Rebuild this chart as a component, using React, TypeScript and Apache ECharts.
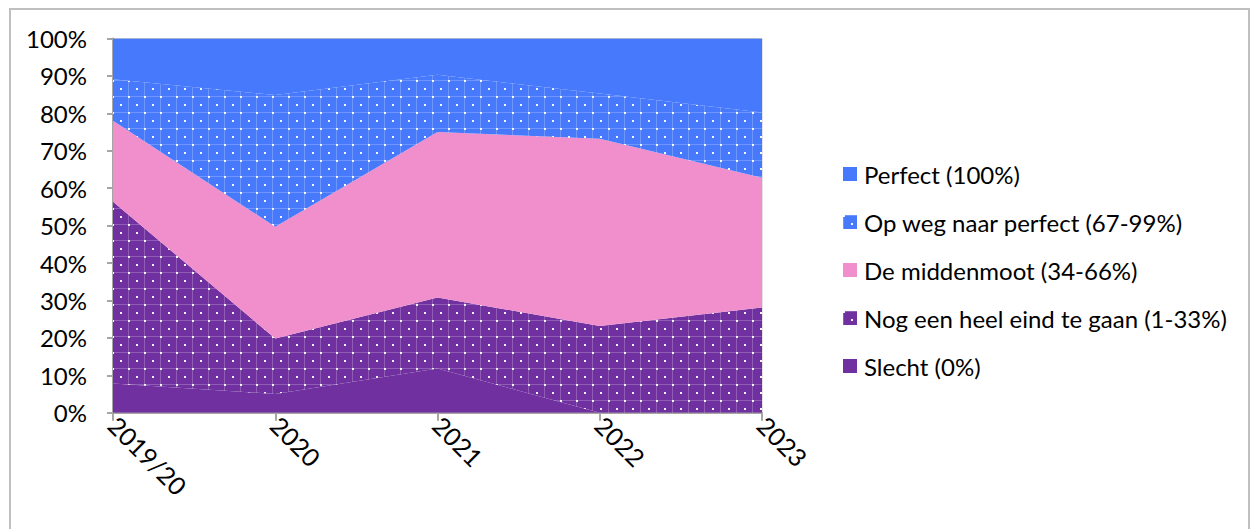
import React, { useEffect, useRef } from "react";
import * as echarts from "echarts";

const categories = ["2019/20", "2020", "2021", "2022", "2023"];
const slecht = [7.8, 5.0, 11.8, 0, 0];
const nogEenHeelEind = [48.6, 14.8, 19.0, 23.2, 28.1];
const middenmoot = [21.6, 29.9, 44.2, 50.0, 34.7];
const opWeg = [11.1, 35.2, 15.3, 12.1, 17.4];
const perfect = [10.9, 15.1, 9.7, 14.7, 19.8];
const yTicks = [0, 10, 20, 30, 40, 50, 60, 70, 80, 90, 100];

const BLUE = "#4679FC";
const PINK = "#F08FCC";
const PURPLE = "#7030A0";
const FONT = "Lato";

function makePattern(base: string) {
  const c = document.createElement("canvas");
  c.width = 16;
  c.height = 16;
  const ctx = c.getContext("2d")!;
  ctx.fillStyle = base;
  ctx.fillRect(0, 0, 16, 16);
  ctx.fillStyle = "rgba(255,255,255,0.22)";
  ctx.fillRect(0, 0, 16, 1);
  ctx.fillRect(0, 0, 1, 16);
  ctx.fillStyle = "rgba(255,255,255,0.95)";
  ctx.fillRect(0, 0, 2, 2);
  ctx.fillRect(8, 8, 2, 2);
  return { image: c, repeat: "repeat", imageWidth: 16, imageHeight: 16 } as any;
}

export default function App() {
  const ref = useRef<HTMLDivElement>(null);
  useEffect(() => {
    document.body.style.margin = "0";
    const chart = echarts.init(ref.current!, null, { renderer: "svg" });
    const bluePat = makePattern(BLUE);
    const purplePat = makePattern(PURPLE);
    const mk = (name: string, data: number[], color: any) => ({
      name,
      type: "line",
      stack: "total",
      data,
      symbol: "none",
      lineStyle: { width: 0, opacity: 0 },
      itemStyle: { color },
      areaStyle: { color, opacity: 1 },
    });
    chart.setOption({
      animation: false,
      textStyle: { fontFamily: FONT },
      graphic: [
        {
          type: "rect",
          shape: { x: 10, y: 9, width: 1239, height: 540 },
          style: { fill: "none", stroke: "#BFBFBF", lineWidth: 2 },
          silent: true,
        },
      ],
      grid: {
        left: 113,
        right: 498,
        top: 38.5,
        bottom: 116.3,
        show: true,
        borderColor: "#C8C8C8",
        borderWidth: 1,
        backgroundColor: "transparent",
      },
      legend: {
        orient: "vertical",
        left: 838,
        top: 157,
        icon: "rect",
        itemWidth: 14,
        itemHeight: 14,
        itemGap: 24,
        selectedMode: false,
        data: [
          "Perfect (100%)",
          "Op weg naar perfect (67-99%)",
          "De middenmoot (34-66%)",
          "Nog een heel eind te gaan (1-33%)",
          "Slecht (0%)",
        ],
        textStyle: { fontFamily: FONT, fontSize: 24, color: "#000", padding: [0, 0, 0, 2] },
      },
      xAxis: {
        type: "category",
        data: categories,
        boundaryGap: false,
        axisLine: { lineStyle: { color: "#A6A6A6", width: 2 } },
        axisTick: { show: true, length: 8, alignWithLabel: true, lineStyle: { color: "#A6A6A6", width: 2 } },
        axisLabel: { rotate: -45, fontSize: 25, color: "#000", fontFamily: FONT, margin: 8 },
        splitLine: { show: false },
      },
      yAxis: {
        type: "value",
        min: yTicks[0],
        max: yTicks[yTicks.length - 1],
        interval: 10,
        axisLine: { show: true, lineStyle: { color: "#A6A6A6", width: 2 } },
        axisTick: { show: true, length: 6, lineStyle: { color: "#A6A6A6", width: 2 } },
        axisLabel: { formatter: "{value}%", fontSize: 24, color: "#000", fontFamily: FONT, margin: 26 },
        splitLine: { show: false },
      },
      series: [
        mk("Slecht (0%)", slecht, PURPLE),
        mk("Nog een heel eind te gaan (1-33%)", nogEenHeelEind, purplePat),
        mk("De middenmoot (34-66%)", middenmoot, PINK),
        mk("Op weg naar perfect (67-99%)", opWeg, bluePat),
        mk("Perfect (100%)", perfect, BLUE),
      ],
    });
    return () => chart.dispose();
  }, []);
  return <div ref={ref} style={{ width: 1260, height: 529 }} />;
}
